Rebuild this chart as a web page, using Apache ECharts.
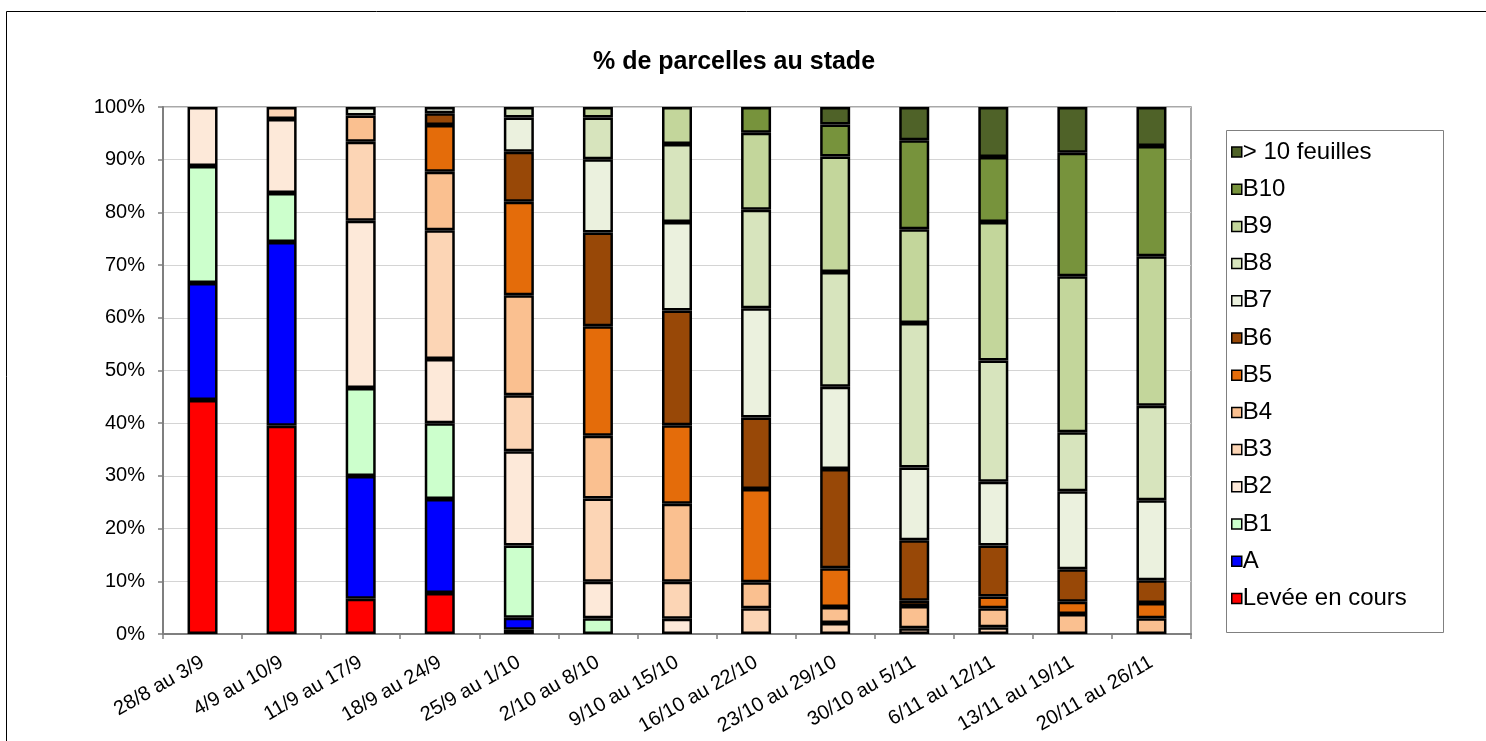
<!DOCTYPE html>
<html>
<head>
<meta charset="utf-8">
<title>% de parcelles au stade</title>
<script src="https://cdn.jsdelivr.net/npm/echarts@6/dist/echarts.min.js"></script>
<style>
  html, body { margin: 0; padding: 0; background: #ffffff; }
  #chart { width: 1486px; height: 741px; }
</style>
</head>
<body>
<div id="chart"></div>
<script>
// Weekly periods
const categories = [
  '28/8 au 3/9', '4/9 au 10/9', '11/9 au 17/9', '18/9 au 24/9', '25/9 au 1/10',
  '2/10 au 8/10', '9/10 au 15/10', '16/10 au 22/10', '23/10 au 29/10',
  '30/10 au 5/11', '6/11 au 12/11', '13/11 au 19/11', '20/11 au 26/11'
];

// Share of plots (%) at each growth stage, bottom of the stack first
const levee = [44.4, 39.5, 6.7, 7.8, 0.8, 0, 0, 0, 0, 0, 0, 0, 0];
const stadeA = [22.2, 34.9, 23.3, 17.8, 2.3, 0, 0, 0, 0, 0, 0, 0, 0];
const b1 = [22.2, 9.3, 16.7, 14.4, 13.7, 3.0, 0, 0, 0, 0, 0, 0, 0];
const b2 = [11.2, 14.0, 31.7, 12.2, 17.9, 6.9, 2.9, 0, 0, 0, 0, 0, 0];
const b3 = [0, 2.3, 15.0, 24.4, 10.6, 15.8, 7.0, 4.9, 2.1, 1.1, 1.3, 0, 0];
const b4 = [0, 0, 5.0, 11.1, 19.0, 11.9, 14.8, 4.9, 3.0, 4.2, 3.6, 3.8, 3.0];
const b5 = [0, 0, 0, 8.9, 17.7, 20.8, 14.9, 17.7, 7.4, 1.0, 2.2, 2.3, 2.9];
const b6 = [0, 0, 0, 2.2, 9.5, 17.8, 21.8, 13.6, 18.8, 11.5, 9.7, 6.2, 4.3];
const b7 = [0, 0, 1.6, 1.2, 6.5, 13.9, 16.8, 20.7, 15.6, 13.8, 12.1, 14.8, 15.2];
const b8 = [0, 0, 0, 0, 2.0, 7.9, 14.8, 18.7, 21.8, 27.4, 23.0, 11.2, 17.9];
const b9 = [0, 0, 0, 0, 0, 2.0, 7.0, 14.6, 21.9, 17.8, 26.3, 29.6, 28.4];
const b10 = [0, 0, 0, 0, 0, 0, 0, 4.9, 6.1, 16.9, 12.3, 23.4, 20.9];
const plus10 = [0, 0, 0, 0, 0, 0, 0, 0, 3.3, 6.3, 9.5, 8.7, 7.4];

const yTicks = [0, 10, 20, 30, 40, 50, 60, 70, 80, 90, 100];

const stages = [
  { name: 'Levée en cours', values: levee,  color: '#FF0000' },
  { name: 'A',              values: stadeA, color: '#0000FF' },
  { name: 'B1',             values: b1,     color: '#CCFFCC' },
  { name: 'B2',             values: b2,     color: '#FDE9D9' },
  { name: 'B3',             values: b3,     color: '#FCD5B5' },
  { name: 'B4',             values: b4,     color: '#FAC090' },
  { name: 'B5',             values: b5,     color: '#E46C0A' },
  { name: 'B6',             values: b6,     color: '#984807' },
  { name: 'B7',             values: b7,     color: '#EBF1DE' },
  { name: 'B8',             values: b8,     color: '#D7E4BD' },
  { name: 'B9',             values: b9,     color: '#C3D69B' },
  { name: 'B10',            values: b10,    color: '#77933C' },
  { name: '> 10 feuilles',  values: plus10, color: '#4F6228' }
];

const FONT = 'Liberation Sans, Arial, sans-serif';

const series = stages.map(s => ({
  name: s.name,
  type: 'bar',
  stack: 'total',
  barWidth: 30,
  // empty stages are left out so no zero-height outline is drawn
  data: s.values.map(v => (v === 0 ? '-' : v)),
  itemStyle: { color: s.color, borderColor: '#000000', borderWidth: 2.5 },
  emphasis: { disabled: true }
}));

const chart = echarts.init(document.getElementById('chart'), null, { renderer: 'canvas' });

chart.setOption({
  animation: false,
  backgroundColor: '#ffffff',
  title: {
    text: '% de parcelles au stade',
    left: 729,
    textAlign: 'center',
    top: 45,
    textStyle: { fontFamily: FONT, fontSize: 25, fontWeight: 'bold', color: '#000000' }
  },
  graphic: [
    {
      type: 'rect',
      shape: { x: 6.5, y: 11.5, width: 1500, height: 800 },
      style: { fill: 'none', stroke: '#000000', lineWidth: 1 },
      silent: true, z: -10
    },
    {
      type: 'rect',
      shape: { x: 1226.5, y: 130.5, width: 217, height: 502 },
      style: { fill: 'none', stroke: '#808080', lineWidth: 1 },
      silent: true
    }
  ],
  legend: {
    orient: 'vertical',
    left: 1231,
    top: 140,
    padding: 0,
    data: stages.map(s => s.name).reverse(),
    icon: 'rect',
    itemWidth: 10,
    itemHeight: 10,
    itemGap: 13.2,
    itemStyle: { borderColor: '#000000', borderWidth: 1.5 },
    selectedMode: false,
    textStyle: { fontFamily: FONT, fontSize: 24, color: '#000000', padding: [0, 0, 0, -4], lineHeight: 24 }
  },
  grid: {
    left: 163,
    right: 295,
    top: 107,
    bottom: 107,
    show: true,
    borderColor: '#8c8c8c',
    borderWidth: 1.5,
    containLabel: false
  },
  xAxis: {
    type: 'category',
    data: categories,
    axisLine: { lineStyle: { color: '#7f7f7f', width: 2 } },
    axisTick: { show: true, length: 5, lineStyle: { color: '#7f7f7f', width: 1.5 } },
    axisLabel: {
      rotate: 30,
      interval: 0,
      margin: 27,
      fontFamily: FONT,
      fontSize: 20,
      color: '#000000'
    }
  },
  yAxis: {
    type: 'value',
    min: yTicks[0],
    max: yTicks[yTicks.length - 1],
    interval: yTicks[1] - yTicks[0],
    axisLine: { show: true, lineStyle: { color: '#7f7f7f', width: 2 } },
    axisTick: { show: true, length: 5, inside: false, lineStyle: { color: '#7f7f7f', width: 1.5 } },
    splitLine: { lineStyle: { color: '#d4d4d4', width: 1 } },
    axisLabel: {
      formatter: '{value}%',
      margin: 18,
      fontFamily: FONT,
      fontSize: 20,
      color: '#000000'
    }
  },
  series: series
});
</script>
</body>
</html>
